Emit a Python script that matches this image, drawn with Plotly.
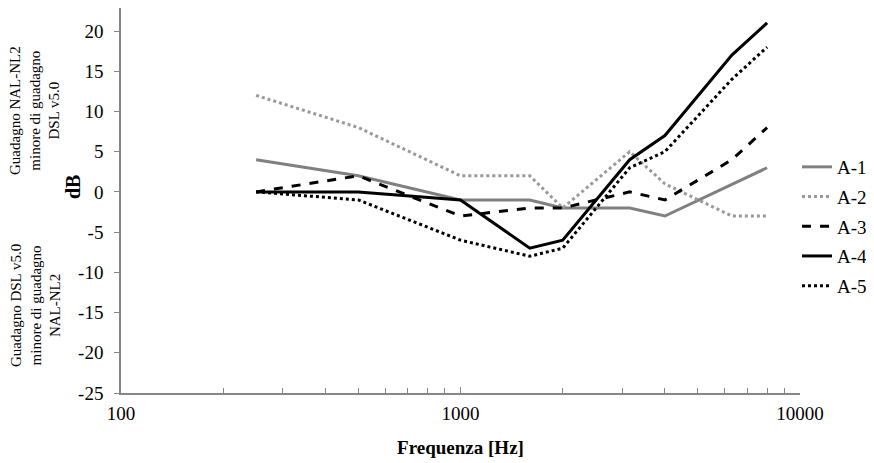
import plotly.graph_objects as go

freq = [250, 500, 1000, 1600, 2000, 3150, 4000, 6300, 8000]
a1 = [4, 2, -1, -1, -2, -2, -3, 1, 3]
a2 = [12, 8, 2, 2, -2, 5, 1, -3, -3]
a3 = [0, 2, -3, -2, -2, 0, -1, 4, 8]
a4 = [0, 0, -1, -7, -6, 4, 7, 17, 21]
a5 = [0, -1, -6, -8, -7, 3, 5, 14, 18]

names = ["A-1", "A-2", "A-3", "A-4", "A-5"]
series = [a1, a2, a3, a4, a5]
styles = [
    dict(color="#808080", width=3, dash="solid"),
    dict(color="#999999", width=3, dash="dot"),
    dict(color="#000000", width=3, dash="dash"),
    dict(color="#000000", width=3, dash="solid"),
    dict(color="#000000", width=3, dash="dot"),
]

xtick_vals = [100, 1000, 10000]
xtick_text = ["100", "1000", "10000"]
ytick_vals = [-25, -20, -15, -10, -5, 0, 5, 10, 15, 20]
ytick_text = ["-25", "-20", "-15", "-10", "-5", "0", "5", "10", "15", "20"]

FONT = "Liberation Serif"

# page has an 8px body offset; plot area in page px: x 121..800, y 8..393
def px(X):
    return (X - 121) / 679

def py(Y):
    return (393 - Y) / 385

fig = go.Figure()
for n, s, st in zip(names, series, styles):
    fig.add_trace(go.Scatter(x=freq, y=s, name=n, mode="lines", line=st,
                             legendgroup=n))

fig.update_layout(
    width=874, height=463,
    margin=dict(l=113, r=82, t=0, b=78),
    paper_bgcolor="white", plot_bgcolor="white",
    font=dict(family=FONT, size=19, color="black"),
    showlegend=True,
    legend=dict(x=px(797), xanchor="left", y=py(148), yanchor="top",
                font=dict(family=FONT, size=19), tracegroupgap=2,
                bgcolor="rgba(0,0,0,0)"),
    xaxis=dict(type="log", range=[2, 4], showgrid=False, zeroline=False,
               automargin=False,
               showline=True, linecolor="#868686", linewidth=1.5,
               tickvals=xtick_vals, ticktext=xtick_text,
               tickfont=dict(family=FONT, size=19),
               ticks="inside", ticklen=6, tickcolor="#868686",
               minor=dict(ticks="inside", ticklen=5, tickcolor="#868686",
                          showgrid=False,
                          tickvals=[200, 300, 400, 500, 600, 700, 800, 900,
                                    2000, 3000, 4000, 5000, 6000, 7000, 8000, 9000]),
               ticklabelstandoff=2,
               title=dict(text="<b>Frequenza [Hz]</b>", standoff=18,
                          font=dict(family=FONT, size=19))),
    yaxis=dict(range=[-25, 22.86], showgrid=False, zeroline=False,
               automargin=False,
               showline=True, linecolor="#868686", linewidth=1.5,
               tickvals=ytick_vals, ticktext=ytick_text,
               tickfont=dict(family=FONT, size=19),
               ticks="outside", ticklen=5, tickcolor="#868686",
               ticklabelstandoff=7),
)

fig.add_annotation(xref="paper", yref="paper", x=px(73), y=py(187),
                   text="<b>dB</b>", textangle=-90, showarrow=False,
                   font=dict(family=FONT, size=20), xanchor="center", yanchor="middle")
fig.add_annotation(xref="paper", yref="paper", x=px(35), y=py(111),
                   text="Guadagno NAL-NL2<br>minore di guadagno<br>DSL v5.0",
                   textangle=-90, showarrow=False, font=dict(family=FONT, size=15),
                   xanchor="center", yanchor="middle", align="center")
fig.add_annotation(xref="paper", yref="paper", x=px(35), y=py(306),
                   text="Guadagno DSL v5.0<br>minore di guadagno<br>NAL-NL2",
                   textangle=-90, showarrow=False, font=dict(family=FONT, size=15),
                   xanchor="center", yanchor="middle", align="center")

fig.write_html("out.html")
